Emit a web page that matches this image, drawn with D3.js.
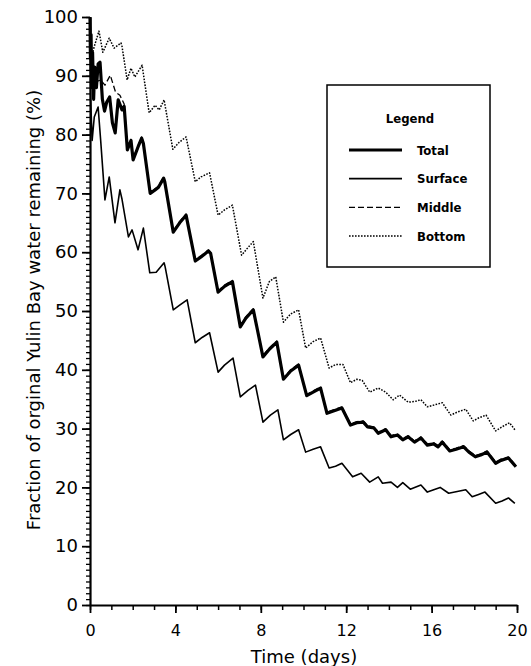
<!DOCTYPE html>
<html>
<head>
  <meta charset="utf-8">
  <title>Yulin Bay flushing</title>
  <style>
    body { margin: 0; background: #fff; }
    text { font-family: "DejaVu Sans", sans-serif; fill: #000; }
  </style>
</head>
<body>
  <script src="https://d3js.org/d3.v7.min.js"></script>
  <script>
    // [day, % remaining]
    var totalPts = [
      [0,100],[0.02,93],[0.05,97],[0.08,88],[0.12,94],[0.17,86],[0.22,91.5],[0.3,88],[0.38,92],[0.47,92.3],
      [0.58,86],[0.68,84],[0.78,85.5],[0.92,86.4],[1.05,82],[1.18,80.3],[1.32,85.9],[1.5,84.2],[1.6,84.8],
      [1.75,77.4],[1.92,79],[2.02,75.7],[2.25,77.9],[2.42,79.4],[2.5,78.5],[2.82,70],[3.05,70.6],[3.2,71],
      [3.45,72.6],[3.5,72],[3.9,63.4],[4.2,65],[4.5,66.3],[4.93,58.5],[5.2,59.2],[5.55,60.2],[5.65,59.8],
      [6.0,53.2],[6.3,54.2],[6.67,55],[7.04,47.3],[7.3,48.8],[7.65,50.2],[8.1,42.2],[8.4,43.5],[8.75,44.7],
      [9.06,38.4],[9.4,39.8],[9.77,40.8],[10.15,35.6],[10.45,36.2],[10.8,36.9],[11.1,32.6],[11.4,33],
      [11.8,33.5],[12.2,30.6],[12.5,31],[12.8,31.1],[13.0,30.3],[13.3,30.1],[13.5,29.2],[13.85,29.8],
      [14.1,28.6],[14.4,28.9],[14.65,28.1],[14.9,28.6],[15.2,27.7],[15.5,28.4],[15.8,27.2],[16.1,27.4],
      [16.3,26.9],[16.5,27.7],[16.85,26.2],[17.15,26.5],[17.5,26.9],[17.75,26],[18.05,25.2],[18.3,25.5],
      [18.6,26],[19.0,24.1],[19.25,24.6],[19.6,25],[19.95,23.5]
    ];
    var surfacePts = [
      [0,100],[0.03,86],[0.1,79],[0.2,83],[0.38,84.7],[0.5,79],[0.7,68.9],[0.9,72.8],[1.17,65],[1.4,70.6],
      [1.5,69],[1.8,62.6],[1.97,63.8],[2.25,60.4],[2.5,64.1],[2.8,56.5],[3.1,56.6],[3.47,58.2],[3.52,57.5],
      [3.9,50.2],[4.2,51],[4.55,51.9],[4.93,44.6],[5.25,45.5],[5.6,46.3],[6.0,39.6],[6.3,40.8],[6.7,42],
      [7.04,35.4],[7.4,36.5],[7.75,37.4],[8.1,31.1],[8.45,32.3],[8.8,33.2],[9.06,28.1],[9.4,29],[9.77,29.8],
      [10.1,26],[10.45,26.5],[10.8,26.9],[11.2,23.3],[11.5,23.6],[11.8,24.1],[12.3,21.8],[12.7,22.4],
      [13.1,20.9],[13.5,21.8],[13.7,20.7],[14.1,20.9],[14.4,20],[14.65,20.8],[15.0,19.7],[15.5,20.4],
      [15.8,19.2],[16.1,19.6],[16.4,20],[16.8,19],[17.2,19.3],[17.6,19.6],[17.9,18.4],[18.2,18.8],
      [18.5,19.2],[19.0,17.3],[19.3,17.7],[19.6,18.2],[19.9,17.3]
    ];
    // middle layer lies almost on top of the total after day ~1.7
    var middlePts = [
      [0,100],[0.1,92],[0.3,89],[0.5,89.3],[0.7,88.4],[0.95,90.1],[1.2,87.2],[1.4,86.7],[1.6,85.2],
      [1.75,77.6],[1.92,79.2],[2.02,75.9],[2.25,78.1],[2.42,79.6],[2.5,78.7],[2.82,70.2],[3.05,70.8],
      [3.2,71.2],[3.45,72.8],[3.5,72.2],[3.9,63.6],[4.2,65.2],[4.5,66.5],[4.93,58.7],[5.2,59.4],
      [5.55,60.4],[5.65,60],[6.0,53.4],[6.3,54.4],[6.67,55.2],[7.04,47.5],[7.3,49],[7.65,50.4],
      [8.1,42.4],[8.4,43.7],[8.75,44.9],[9.06,38.6],[9.4,40],[9.77,41],[10.15,35.8],[10.45,36.4],
      [10.8,37.1],[11.1,32.8],[11.4,33.2],[11.8,33.7],[12.2,30.8],[12.5,31.2],[12.8,31.3],[13.0,30.5],
      [13.3,30.3],[13.5,29.4],[13.85,30],[14.1,28.8],[14.4,29.1],[14.65,28.3],[14.9,28.8],[15.2,27.9],
      [15.5,28.6],[15.8,27.4],[16.1,27.6],[16.3,27.1],[16.5,27.9],[16.85,26.4],[17.15,26.7],[17.5,27.1],
      [17.75,26.2],[18.05,25.4],[18.3,25.7],[18.6,26.2],[19.0,24.3],[19.25,24.8],[19.6,25.2],[19.95,23.7]
    ];
    var bottomPts = [
      [0,100],[0.05,93],[0.2,95],[0.42,97.6],[0.6,94],[0.9,96.4],[1.13,94.7],[1.45,95.6],[1.5,95],
      [1.74,89.3],[1.92,91.3],[2.1,89.8],[2.44,91.8],[2.77,83.7],[3.05,85],[3.24,84.2],[3.47,85.9],
      [3.88,77.5],[4.18,78.7],[4.5,79.6],[4.93,72],[5.2,72.8],[5.6,73.5],[6.0,66.3],[6.3,67.2],[6.67,68],
      [7.1,59.5],[7.4,60.8],[7.65,61.8],[8.1,52.2],[8.4,55],[8.7,55.8],[9.06,48.1],[9.4,49.5],[9.77,50.2],
      [10.1,43.7],[10.45,44.8],[10.8,45.4],[11.2,40.3],[11.5,40.9],[11.85,40.9],[12.2,37.8],[12.5,38.4],
      [12.75,38.2],[13.1,36.2],[13.5,36.9],[13.85,36.2],[14.2,34.9],[14.5,35.7],[14.9,34.5],[15.2,34.6],
      [15.5,34.9],[15.8,33.7],[16.2,34.1],[16.5,34.4],[16.9,32.3],[17.2,32.8],[17.6,33.3],[17.95,31.3],
      [18.2,31.8],[18.55,32.3],[19.0,29.6],[19.3,30.3],[19.65,31],[19.9,29.8]
    ];

    var xMajor = [0, 4, 8, 12, 16, 20];
    var yMajor = [0, 10, 20, 30, 40, 50, 60, 70, 80, 90, 100];
    var legendNames = ["Total", "Surface", "Middle", "Bottom"];

    var width = 531, height = 666;
    var svg = d3.select("body").append("svg")
      .attr("width", width).attr("height", height);

    var x = d3.scaleLinear().domain([0, 20]).range([90, 517]);
    var y = d3.scaleLinear().domain([0, 100]).range([605, 17]);

    // minor ticks first, then major axis on top
    svg.append("g").attr("transform", "translate(90,0)")
      .call(d3.axisLeft(y).tickValues(d3.range(0, 101, 1)).tickSize(4).tickFormat(""))
      .call(g => g.select(".domain").remove())
      .selectAll("line").attr("stroke-width", 1.3);
    svg.append("g").attr("transform", "translate(0,605)")
      .call(d3.axisBottom(x).tickValues(d3.range(0, 21, 1)).tickSize(5).tickFormat(""))
      .call(g => g.select(".domain").remove())
      .selectAll("line").attr("stroke-width", 1.5);

    var yAxis = svg.append("g").attr("transform", "translate(90,0)")
      .call(d3.axisLeft(y).tickValues(yMajor).tickSize(8).tickSizeOuter(0).tickPadding(4));
    yAxis.select(".domain").attr("stroke-width", 2.2);
    yAxis.selectAll("line").attr("stroke-width", 1.8);
    yAxis.selectAll("text").style("font-size", "18px");

    var xAxis = svg.append("g").attr("transform", "translate(0,605)")
      .call(d3.axisBottom(x).tickValues(xMajor).tickSize(8).tickSizeOuter(0).tickPadding(12));
    xAxis.select(".domain").attr("stroke-width", 2.2);
    xAxis.selectAll("line").attr("stroke-width", 1.8);
    xAxis.selectAll("text").style("font-size", "16px");

    svg.append("text")
      .attr("transform", "translate(33,310) rotate(-90)")
      .attr("text-anchor", "middle").attr("dominant-baseline", "central")
      .style("font-size", "18px")
      .text("Fraction of orginal Yulin Bay water remaining (%)");
    svg.append("text")
      .attr("x", 304).attr("y", 656)
      .attr("text-anchor", "middle").attr("dominant-baseline", "central")
      .style("font-size", "18px")
      .text("Time (days)");

    var line = d3.line().x(d => x(d[0])).y(d => y(d[1]));

    var styles = {
      Total:   { w: 3.2, dash: null },
      Surface: { w: 1.6, dash: null },
      Middle:  { w: 1.3, dash: "6,3" },
      Bottom:  { w: 1.5, dash: "1.6,1.4" }
    };
    var seriesData = { Total: totalPts, Surface: surfacePts, Middle: middlePts, Bottom: bottomPts };

    ["Bottom", "Middle", "Surface", "Total"].forEach(function(name) {
      svg.append("path")
        .datum(seriesData[name])
        .attr("fill", "none")
        .attr("stroke", "#000")
        .attr("stroke-width", styles[name].w)
        .attr("stroke-linejoin", "round")
        .attr("stroke-dasharray", styles[name].dash)
        .attr("d", line);
    });

    // legend
    var lg = svg.append("g");
    lg.append("rect")
      .attr("x", 327).attr("y", 85).attr("width", 163).attr("height", 182)
      .attr("fill", "#fff").attr("stroke", "#000").attr("stroke-width", 1.5);
    lg.append("text")
      .attr("x", 410).attr("y", 118)
      .attr("text-anchor", "middle").attr("dominant-baseline", "central")
      .style("font-size", "13px").style("font-weight", "bold")
      .style("font-family", "'DejaVu Sans Condensed', 'DejaVu Sans', sans-serif")
      .text("Legend");
    var ly = d3.scalePoint().domain(legendNames).range([150, 236]);
    legendNames.forEach(function(name) {
      lg.append("line")
        .attr("x1", 349).attr("x2", 402)
        .attr("y1", ly(name)).attr("y2", ly(name))
        .attr("stroke", "#000")
        .attr("stroke-width", styles[name].w)
        .attr("stroke-dasharray", styles[name].dash);
      lg.append("text")
        .attr("x", 417).attr("y", ly(name))
        .attr("dominant-baseline", "central")
        .style("font-size", "13px").style("font-weight", "bold")
        .style("font-family", "'DejaVu Sans Condensed', 'DejaVu Sans', sans-serif")
        .text(name);
    });
  </script>
</body>
</html>
